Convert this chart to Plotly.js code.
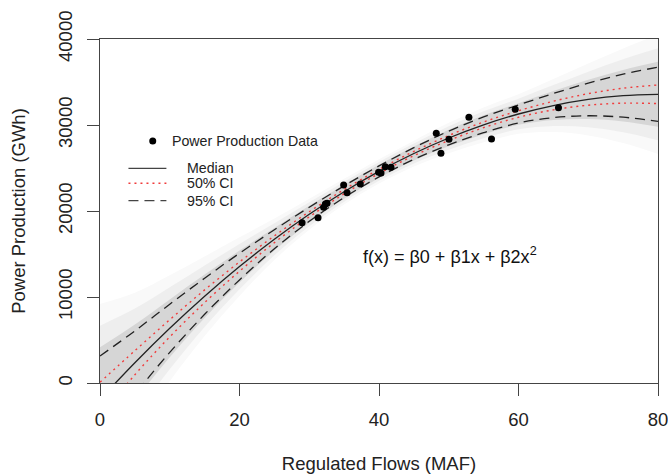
<!DOCTYPE html>
<html>
<head>
<meta charset="utf-8">
<script src="https://cdn.plot.ly/plotly-3.0.1.min.js"></script>
<style>html,body{margin:0;padding:0;background:#fff;}#chart{width:668px;height:475px;}</style>
</head>
<body>
<div id="chart"></div>
<script>
// ---- data ----
const flowMAF = [28.97, 31.26, 32.06, 32.31, 32.55, 34.93, 35.42, 37.32, 39.94, 40.29, 40.90, 41.72, 48.21, 48.88, 50.03, 52.89, 56.13, 59.53, 65.73];
const powerGWh = [18640, 19220, 20430, 20810, 20900, 23020, 22130, 23140, 24500, 24420, 25150, 25080, 29030, 26710, 28340, 30900, 28370, 31830, 32010];

const xGrid   = [0, 5, 10, 15, 20, 25, 30, 35, 40, 45, 50, 55, 60, 65, 70, 75, 80];
const median  = [-1914, 2360, 6360, 10086, 13537, 16714, 19617, 22246, 24601, 26682, 28488, 30021, 31279, 32263, 32973, 33409, 33571];
const ci50Hi  = [86, 3760, 7360, 10826, 14077, 17104, 19917, 22496, 24836, 26932, 28778, 30351, 31659, 32763, 33643, 34279, 34651];
const ci50Lo  = [-3914, 960, 5360, 9346, 12997, 16324, 19317, 21996, 24366, 26432, 28198, 29691, 30899, 31763, 32303, 32539, 32491];
const ci95Hi  = [3136, 6060, 9160, 12186, 15087, 17814, 20437, 22926, 25241, 27362, 29288, 30941, 32329, 33663, 34873, 35909, 36721];
const ci95Lo  = [-6964, -1340, 3560, 7986, 11987, 15614, 18797, 21566, 23961, 26002, 27688, 29101, 30229, 30863, 31073, 30909, 30421];
// grey cloud of posterior draws (dense core, fading edges)
const cloudCoreHi = [4146, 6800, 9720, 12606, 15397, 18034, 20601, 23062, 25369, 27498, 29448, 31125, 32539, 33943, 35253, 36409, 37351];
const cloudCoreLo = [-7974, -2080, 3000, 7566, 11677, 15394, 18633, 21430, 23833, 25866, 27528, 28917, 30019, 30583, 30693, 30409, 29791];
const cloudMidHi  = [6671, 8650, 11120, 13656, 16172, 18584, 21011, 23402, 25689, 27838, 29848, 31585, 33064, 34643, 36203, 37659, 38926];
const cloudMidLo  = [-10499, -3930, 1600, 6516, 10902, 14844, 18223, 21090, 23513, 25526, 27128, 28457, 29494, 29883, 29743, 29159, 28216];
const cloudOutHi  = [9196, 10500, 12520, 14706, 16947, 19134, 21421, 23742, 26009, 28178, 30248, 32045, 33589, 35343, 37153, 38909, 40501];
const cloudOutLo  = [-13024, -5780, 200, 5466, 10127, 14294, 17813, 20750, 23193, 25186, 26728, 27997, 28969, 29183, 28793, 27909, 26641];

const xTicks = [0, 20, 40, 60, 80];
const xTickText = ['0', '20', '40', '60', '80'];
const yTicks = [0, 10000, 20000, 30000, 40000];
const yTickText = ['0', '10000', '20000', '30000', '40000'];

const legendLabels = ['Power Production Data', 'Median', '50% CI', '95% CI'];
const formulaText = 'f(x) = \u03B20 + \u03B21x + \u03B22x<sup>2</sup>';

// ---- traces ----
const sp = {shape: 'spline', smoothing: 1};
function band(lo, hi, color) {
  return [
    {x: xGrid, y: lo, type: 'scatter', mode: 'lines', line: Object.assign({width: 0, color: color}, sp), hoverinfo: 'skip', showlegend: false},
    {x: xGrid, y: hi, type: 'scatter', mode: 'lines', fill: 'tonexty', fillcolor: color, line: Object.assign({width: 0, color: color}, sp), hoverinfo: 'skip', showlegend: false}
  ];
}
const traces = [].concat(
  band(cloudOutLo, cloudOutHi, '#f9f9f9'),
  band(cloudMidLo, cloudMidHi, '#eeeeee'),
  band(cloudCoreLo, cloudCoreHi, '#d6d6d6'),
  [
    {x: xGrid, y: ci95Hi, type: 'scatter', mode: 'lines', name: '95% CI', line: Object.assign({color: '#222', width: 1.3, dash: '10px,6px'}, sp), showlegend: false},
    {x: xGrid, y: ci95Lo, type: 'scatter', mode: 'lines', name: '95% CI', line: Object.assign({color: '#222', width: 1.3, dash: '10px,6px'}, sp), showlegend: false},
    {x: xGrid, y: ci50Hi, type: 'scatter', mode: 'lines', name: '50% CI', line: Object.assign({color: '#f03c3c', width: 1.4, dash: '2px,4px'}, sp), showlegend: false},
    {x: xGrid, y: ci50Lo, type: 'scatter', mode: 'lines', name: '50% CI', line: Object.assign({color: '#f03c3c', width: 1.4, dash: '2px,4px'}, sp), showlegend: false},
    {x: xGrid, y: median, type: 'scatter', mode: 'lines', name: 'Median', line: Object.assign({color: '#222', width: 1.3}, sp), showlegend: false},
    {x: flowMAF, y: powerGWh, type: 'scatter', mode: 'markers', name: 'Power Production Data', marker: {color: '#000', size: 7}, showlegend: false}
  ]
);

// ---- manual legend (R style) ----
const lgX0 = 0.051, lgX1 = 0.119, lgTextX = 0.1531;
const lgRows = [0.7035, 0.6241, 0.5805, 0.530];
const shapes = [
  {type: 'circle', xref: 'paper', yref: 'paper', xsizemode: 'pixel', ysizemode: 'pixel', xanchor: 0.0945, yanchor: lgRows[0], x0: -3.5, x1: 3.5, y0: -3.5, y1: 3.5, fillcolor: '#000', line: {width: 0}},
  {type: 'line', xref: 'paper', yref: 'paper', x0: lgX0, x1: lgX1, y0: lgRows[1], y1: lgRows[1], line: {color: '#444', width: 1.3}},
  {type: 'line', xref: 'paper', yref: 'paper', x0: lgX0, x1: lgX1, y0: lgRows[2], y1: lgRows[2], line: {color: '#f03c3c', width: 1.4, dash: '2px,4px'}},
  {type: 'line', xref: 'paper', yref: 'paper', x0: lgX0, x1: lgX1, y0: lgRows[3], y1: lgRows[3], line: {color: '#444', width: 1.3, dash: '10px,6px'}}
];
const lgFont = {family: 'Liberation Sans, Arial, sans-serif', size: 14.2, color: '#222'};
const annotations = [
  {xref: 'paper', yref: 'paper', x: 0.1262, y: lgRows[0], xanchor: 'left', yanchor: 'middle', text: legendLabels[0], showarrow: false, font: lgFont},
  {xref: 'paper', yref: 'paper', x: lgTextX, y: lgRows[1], xanchor: 'left', yanchor: 'middle', text: legendLabels[1], showarrow: false, font: lgFont},
  {xref: 'paper', yref: 'paper', x: lgTextX, y: lgRows[2], xanchor: 'left', yanchor: 'middle', text: legendLabels[2], showarrow: false, font: lgFont},
  {xref: 'paper', yref: 'paper', x: lgTextX, y: lgRows[3], xanchor: 'left', yanchor: 'middle', text: legendLabels[3], showarrow: false, font: lgFont},
  {xref: 'paper', yref: 'paper', x: 0.6276, y: 0.372, xanchor: 'center', yanchor: 'middle', text: formulaText, showarrow: false, font: {family: 'Liberation Sans, Arial, sans-serif', size: 18, color: '#111'}}
];

const axFont = {family: 'Liberation Sans, Arial, sans-serif', size: 18.5, color: '#222'};
const layout = {
  width: 668, height: 475,
  margin: {l: 99.5, r: 10, t: 39, b: 92},
  paper_bgcolor: '#fff', plot_bgcolor: '#fff',
  showlegend: false,
  xaxis: {
    range: [0, 80], tickvals: xTicks, ticktext: xTickText,
    ticks: 'outside', ticklen: 12, tickcolor: '#444', tickwidth: 1,
    showline: true, linecolor: '#444', linewidth: 1, mirror: true,
    showgrid: false, zeroline: false, tickfont: axFont, ticklabelstandoff: 8,
    ticklabeloverflow: 'allow',
    title: {text: 'Regulated Flows (MAF)', font: axFont, standoff: 27}
  },
  yaxis: {
    range: [0, 40000], tickvals: yTicks, ticktext: yTickText, tickangle: -90,
    ticks: 'outside', ticklen: 12, tickcolor: '#444', tickwidth: 1,
    showline: true, linecolor: '#444', linewidth: 1, mirror: true,
    showgrid: false, zeroline: false, tickfont: axFont, ticklabelstandoff: 8,
    ticklabeloverflow: 'allow',
    title: {text: 'Power Production (GWh)', font: axFont, standoff: 24}
  },
  shapes: shapes,
  annotations: annotations
};

Plotly.newPlot('chart', traces, layout, {displayModeBar: false, staticPlot: true});
</script>
</body>
</html>
